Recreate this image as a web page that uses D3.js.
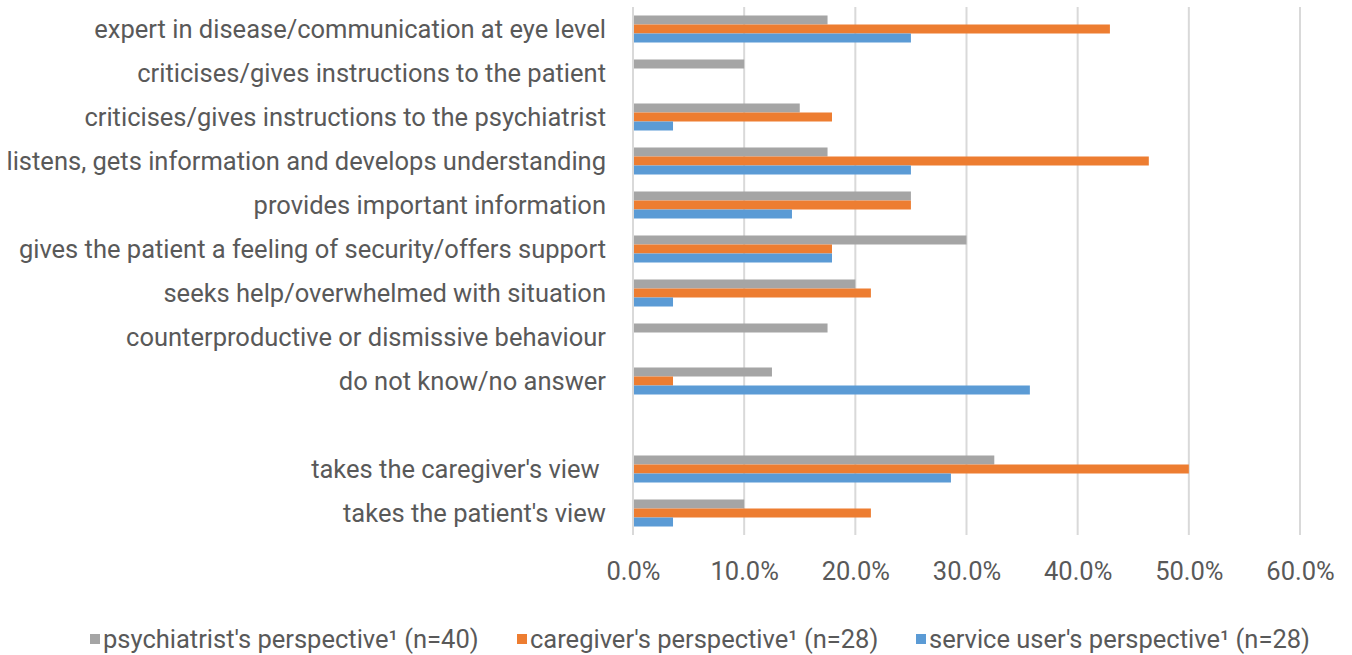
<!DOCTYPE html>
<html>
<head>
<meta charset="utf-8">
<script src="https://cdn.jsdelivr.net/npm/d3@7"></script>
<style>
  body { margin: 0; background: #fff; }
  text { font-family: "Roboto", "Liberation Sans", sans-serif; fill: #595959; }
</style>
</head>
<body>
<script>
// categories top to bottom ("" is the empty gap row)
var categories = [
    "expert in disease/communication at eye level",
    "criticises/gives instructions to the patient",
    "criticises/gives instructions to the psychiatrist",
    "listens, gets information and develops understanding",
    "provides important information",
    "gives the patient a feeling of security/offers support",
    "seeks help/overwhelmed with situation",
    "counterproductive or dismissive behaviour",
    "do not know/no answer",
    "",
    "takes the caregiver's view ",
    "takes the patient's view"
];

var psychiatrist = [17.5, 10, 15, 17.5, 25, 30, 20, 17.5, 12.5, null, 32.5, 10];
var caregiver    = [42.9, 0, 17.9, 46.4, 25, 17.9, 21.4, 0, 3.6, null, 50, 21.4];
var serviceUser  = [25, 0, 3.6, 25, 14.3, 17.9, 3.6, 0, 35.7, null, 28.6, 3.6];

var seriesNames = [
    "psychiatrist's perspective\u00b9 (n=40)",
    "caregiver's perspective\u00b9 (n=28)",
    "service user's perspective\u00b9 (n=28)"
];
var colors = ["#A5A5A5", "#ED7D31", "#5B9BD5"];
var xTicks = [0, 10, 20, 30, 40, 50, 60];

var seriesData = [psychiatrist, caregiver, serviceUser];
var FS = "25.5px";

var W = 1352, H = 655;
var MARGINS = {left: 633, right: 52, top: 7, bottom: 120};
var width = W - MARGINS.left - MARGINS.right;
var height = H - MARGINS.top - MARGINS.bottom;

var svg = d3.select("body").append("svg")
    .attr("width", W)
    .attr("height", H);

var g = svg.append("g")
    .attr("transform", "translate(" + MARGINS.left + "," + MARGINS.top + ")");

var xScale = d3.scaleLinear().domain([0, 60]).range([0, width]);
var yScale = d3.scaleBand().domain(d3.range(categories.length)).range([0, height]).padding(0);
var inner = d3.scaleBand().domain(d3.range(3)).range([0, yScale.bandwidth()])
    .paddingInner(0).paddingOuter(0.944);

// gridlines
g.selectAll(".grid").data(xTicks).enter().append("line")
    .attr("x1", function (d) { return xScale(d); })
    .attr("x2", function (d) { return xScale(d); })
    .attr("y1", 0)
    .attr("y2", height)
    .attr("stroke", "#d9d9d9")
    .attr("stroke-width", 2);

// bars
seriesData.forEach(function (vals, s) {
    var rows = vals.map(function (v, i) { return {v: v, i: i}; })
        .filter(function (d) { return d.v != null && d.v > 0; });
    g.selectAll(".bar" + s).data(rows).enter().append("rect")
        .attr("x", xScale(0) + 1)
        .attr("y", function (d) { return yScale(d.i) + inner(s); })
        .attr("width", function (d) { return xScale(d.v) - xScale(0) - 1; })
        .attr("height", inner.bandwidth())
        .attr("fill", colors[s]);
});

// category labels
g.selectAll(".cat").data(categories).enter().append("text")
    .attr("x", -27)
    .attr("y", function (d, i) { return yScale(i) + yScale.bandwidth() / 2; })
    .attr("dy", "0.35em")
    .attr("text-anchor", "end")
    .style("white-space", "pre")
    .style("font-size", FS)
    .text(function (d) { return d; });

// x axis tick labels
var xAxis = g.append("g")
    .attr("transform", "translate(0," + height + ")")
    .call(d3.axisBottom(xScale).tickValues(xTicks).tickSize(0).tickPadding(27)
        .tickFormat(function (d) { return d.toFixed(1) + "%"; }));
xAxis.select(".domain").remove();
xAxis.selectAll("text").style("font-size", FS).attr("fill", "#595959")
    .style("font-family", null);

// legend
var legendPos = [90, 517, 916];
var legend = svg.append("g");
seriesNames.forEach(function (name, s) {
    legend.append("rect")
        .attr("x", legendPos[s])
        .attr("y", 634)
        .attr("width", 10)
        .attr("height", 10)
        .attr("fill", colors[s]);
    legend.append("text")
        .attr("x", legendPos[s] + 13)
        .attr("y", 639)
        .attr("dy", "0.35em")
        .style("font-size", FS)
        .text(name);
});
</script>
</body>
</html>
